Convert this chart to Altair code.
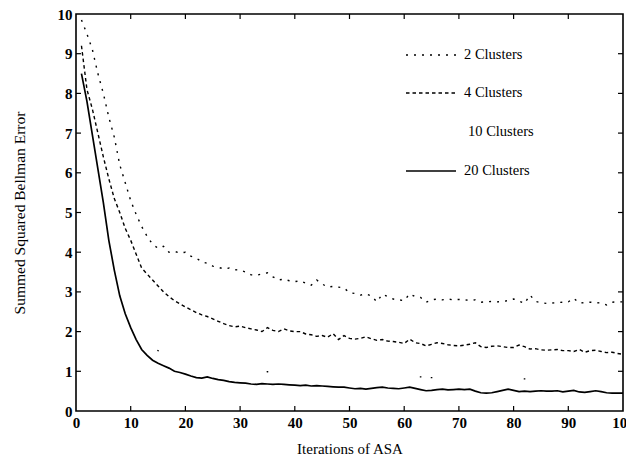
import math
import altair as alt
import pandas as pd

iterations = list(range(1, 101))

err_2 = [9.85, 9.5, 9.1, 8.5, 8.0, 7.4, 6.9, 6.2, 5.75, 5.3,
         4.95, 4.65, 4.4, 4.2, 4.1, 4.15, 4.0, 4.02, 3.98, 4.0,
         3.9, 3.85, 3.76, 3.72, 3.65, 3.62, 3.58, 3.6, 3.56, 3.55,
         3.5, 3.43, 3.42, 3.45, 3.48, 3.38, 3.3, 3.32, 3.28, 3.26,
         3.28, 3.22, 3.17, 3.3, 3.2, 3.12, 3.14, 3.12, 3.1, 2.98,
         2.96, 2.92, 2.95, 2.9, 2.75, 2.94, 2.88, 2.82, 2.8, 2.78,
         2.95, 2.88, 2.86, 2.74, 2.8, 2.82, 2.8, 2.82, 2.8, 2.81,
         2.8, 2.79, 2.8, 2.74, 2.75, 2.76, 2.75, 2.76, 2.78, 2.82,
         2.77, 2.71, 2.92, 2.76, 2.73, 2.71, 2.72, 2.73, 2.74, 2.75,
         2.84, 2.72, 2.73, 2.74, 2.73, 2.72, 2.67, 2.74, 2.75, 2.75]

err_4 = [9.2, 8.1, 7.6, 7.0, 6.4, 5.85, 5.35, 5.0, 4.6, 4.3,
         3.95, 3.6, 3.45, 3.3, 3.15, 3.0, 2.88, 2.78, 2.7, 2.62,
         2.55, 2.48, 2.42, 2.38, 2.32, 2.26, 2.2, 2.15, 2.12, 2.14,
         2.1, 2.07, 2.04, 2.0, 2.1, 2.03, 2.0, 2.07, 2.02, 2.0,
         2.0, 1.94, 1.92, 1.88, 1.9, 1.86, 1.95, 1.8, 1.9, 1.83,
         1.81, 1.83, 1.87, 1.82, 1.78, 1.8, 1.76, 1.75, 1.73, 1.7,
         1.81, 1.72, 1.7, 1.64, 1.68, 1.72, 1.7, 1.67, 1.65, 1.64,
         1.66, 1.68, 1.72, 1.62, 1.6, 1.63, 1.64, 1.62, 1.6, 1.6,
         1.66, 1.62, 1.56, 1.57, 1.54, 1.53, 1.54, 1.55, 1.52, 1.52,
         1.5, 1.55, 1.48, 1.52, 1.53, 1.5, 1.47, 1.48, 1.45, 1.43]

err_10 = [8.55, 7.85, 7.05, 6.25, 5.4, 4.5, 3.75, 3.1, 2.65, 2.3,
          2.0, 1.8, 1.68, 1.6, 1.52, 1.46, 1.42, 1.37, 1.33, 1.3,
          1.27, 1.24, 1.21, 1.19, 1.16, 1.14, 1.12, 1.1, 1.08, 1.06,
          1.05, 1.03, 1.02, 1.0, 0.99, 0.98, 0.98, 0.97, 0.96, 0.95,
          0.95, 0.94, 0.93, 0.93, 0.92, 0.92, 0.91, 0.91, 0.9, 0.9,
          0.9, 0.89, 0.89, 0.89, 0.88, 0.88, 0.88, 0.87, 0.87, 0.87,
          0.87, 0.86, 0.86, 0.85, 0.84, 0.84, 0.84, 0.84, 0.83, 0.83,
          0.83, 0.83, 0.83, 0.82, 0.82, 0.82, 0.82, 0.82, 0.82, 0.81,
          0.81, 0.81, 0.81, 0.81, 0.8, 0.8, 0.8, 0.8, 0.8, 0.8,
          0.79, 0.79, 0.79, 0.79, 0.79, 0.79, 0.78, 0.78, 0.78, 0.78]

err_20 = [8.5, 7.8, 6.95, 6.1, 5.25, 4.3, 3.55, 2.9, 2.45, 2.1,
          1.8, 1.55, 1.4, 1.28, 1.2, 1.14, 1.08, 1.0, 0.97, 0.93,
          0.88, 0.84, 0.83, 0.86, 0.82, 0.79, 0.77, 0.74, 0.72, 0.71,
          0.7, 0.68, 0.67, 0.69, 0.68, 0.67, 0.68, 0.67, 0.66, 0.65,
          0.64, 0.65, 0.63, 0.64, 0.63, 0.62, 0.61, 0.6, 0.6, 0.58,
          0.56, 0.57, 0.55, 0.57, 0.59, 0.6, 0.58, 0.57, 0.56, 0.58,
          0.6, 0.57, 0.54, 0.51, 0.52, 0.54, 0.55, 0.53, 0.54, 0.55,
          0.54, 0.55, 0.5, 0.46, 0.45, 0.46, 0.49, 0.52, 0.55, 0.52,
          0.49, 0.5, 0.49, 0.5, 0.51, 0.5, 0.5, 0.51, 0.48, 0.5,
          0.52, 0.48, 0.47, 0.49, 0.51, 0.49, 0.46, 0.45, 0.45, 0.45]

# iterations at which the faint 10-cluster dotted line is still visible in the scan
visible_10 = [15, 35, 63, 65, 82]

series_names = ["2 Clusters", "4 Clusters", "10 Clusters", "20 Clusters"]
x_ticks = [0, 10, 20, 30, 40, 50, 60, 70, 80, 90, 100]
y_ticks = [0, 1, 2, 3, 4, 5, 6, 7, 8, 9, 10]

W, H = 547, 397
FONT = "Liberation Serif"

# dash pattern for the faint 10-cluster line: dots only where the scan shows them
def arc_length_to(target):
    L = 0.0
    for i in range(1, len(iterations)):
        if iterations[i] > target:
            break
        dx = (iterations[i] - iterations[i - 1]) * W / 100
        dy = (err_10[i] - err_10[i - 1]) * H / 10
        L += math.hypot(dx, dy)
    return L

dot = 1.6
dash10 = [0]
prev = 0.0
for t in visible_10:
    L = arc_length_to(t)
    dash10.append(max(L - prev - dot / 2, 0.1))
    dash10.append(dot)
    prev = L + dot / 2
dash10.append(4000)

xscale = alt.Scale(domain=[0, 100], nice=False, zero=False)
yscale = alt.Scale(domain=[0, 10], nice=False, zero=False)

xaxis = alt.Axis(values=x_ticks, format="d", grid=False, ticks=False, domain=False,
                 labelFont=FONT, labelFontSize=15, labelFontWeight="bold", labelColor="black",
                 labelPadding=4, labelFlush=False, labelOverlap=False,
                 title="Iterations of ASA", titleFont=FONT, titleFontSize=15,
                 titleFontWeight="normal", titleColor="black",
                 titleX=W / 2, titleY=37, titleBaseline="middle", titleAlign="center")
yaxis = alt.Axis(values=y_ticks, format="d", grid=False, ticks=False, domain=False,
                 labelFont=FONT, labelFontSize=15, labelFontWeight="bold", labelColor="black",
                 labelPadding=4, labelFlush=False, labelOverlap=False,
                 title="Summed Squared Bellman Error", titleFont=FONT, titleFontSize=15.5,
                 titleFontWeight="normal", titleColor="black",
                 titleX=-57, titleY=H / 2, titleAngle=270, titleBaseline="middle",
                 titleAlign="center")

styles = {
    "2 Clusters": dict(strokeDash=[2, 6], strokeWidth=1.4),
    "4 Clusters": dict(strokeDash=[3.5, 3], strokeWidth=1.4),
    "10 Clusters": dict(strokeDash=dash10, strokeWidth=1.4),
    "20 Clusters": dict(strokeWidth=1.7),
}
values = {"2 Clusters": err_2, "4 Clusters": err_4, "10 Clusters": err_10, "20 Clusters": err_20}

layers = []
for name in series_names:
    df = pd.DataFrame({"iter": iterations, "err": values[name], "series": name})
    layers.append(alt.Chart(df).mark_line(color="black", strokeCap="butt", clip=True,
                                          **styles[name]).encode(
        x=alt.X("iter:Q", scale=xscale, axis=xaxis),
        y=alt.Y("err:Q", scale=yscale, axis=yaxis)))

# inward ticks on all four sides
xt = pd.DataFrame({"iter": x_ticks[1:-1]})
yt = pd.DataFrame({"err": y_ticks[1:-1]})
tick_style = dict(color="black", strokeWidth=1.2)
layers.append(alt.Chart(xt).mark_rule(**tick_style).encode(
    x=alt.X("iter:Q", scale=xscale, axis=xaxis), y=alt.value(H), y2=alt.value(H - 5)))
layers.append(alt.Chart(xt).mark_rule(**tick_style).encode(
    x=alt.X("iter:Q", scale=xscale, axis=xaxis), y=alt.value(0), y2=alt.value(5)))
layers.append(alt.Chart(yt).mark_rule(**tick_style).encode(
    y=alt.Y("err:Q", scale=yscale, axis=yaxis), x=alt.value(0), x2=alt.value(5)))
layers.append(alt.Chart(yt).mark_rule(**tick_style).encode(
    y=alt.Y("err:Q", scale=yscale, axis=yaxis), x=alt.value(W), x2=alt.value(W - 5)))

# legend (inside plot, top right)
leg_rows_y = [41, 79, 118, 157]
for name, ly in zip(series_names, leg_rows_y):
    ldf = pd.DataFrame({"label": [name]})
    st = dict(styles[name])
    if name == "10 Clusters":
        st["opacity"] = 0
        st.pop("strokeDash")
    layers.append(alt.Chart(ldf).mark_rule(color="black", strokeCap="butt", **st).encode(
        x=alt.value(330), x2=alt.value(380), y=alt.value(ly)))
    layers.append(alt.Chart(ldf).mark_text(font=FONT, fontSize=14.5, color="black",
                                           align="left", baseline="middle").encode(
        x=alt.value(388 if name != "10 Clusters" else 392), y=alt.value(ly), text="label:N"))

chart = alt.layer(*layers).properties(
    width=W, height=H,
    padding={"left": 68, "top": 6, "right": 3, "bottom": 47},
    autosize=alt.AutoSizeParams(type="none"),
    background="white",
).configure_view(stroke="black", strokeWidth=1.6)

chart.save("out.html", embed_options={"renderer": "svg", "actions": False})
